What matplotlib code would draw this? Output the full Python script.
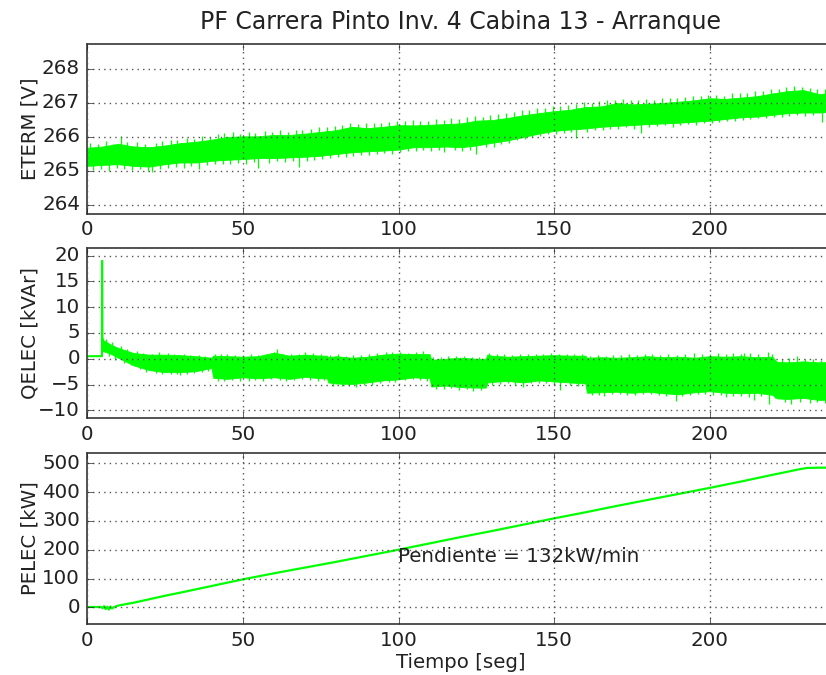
import matplotlib
matplotlib.use("Agg")
import matplotlib.pyplot as plt
import numpy as np

plt.style.use("classic")
plt.rcParams["font.family"] = ["DejaVu Sans"]

GREEN = "#00ff00"

title = "PF Carrera Pinto Inv. 4 Cabina 13 - Arranque"
xlabel = "Tiempo [seg]"
ylabels = ["ETERM [V]", "QELEC [kVAr]", "PELEC [kW]"]
annotation = "Pendiente = 132kW/min"

# ---------------- ETERM band ----------------
eterm_t = [0, 5, 10, 15, 20, 25, 30, 35, 40, 45, 50, 55, 60, 65, 70, 75, 80, 85, 90, 95,
           100, 105, 110, 115, 120, 125, 130, 135, 140, 145, 150, 155, 160, 165, 170, 175,
           180, 185, 190, 195, 200, 205, 210, 215, 220, 225, 230, 235, 240]
eterm_hi = [265.68, 265.72, 265.80, 265.72, 265.70, 265.75, 265.82, 265.86, 265.92, 266.00,
            266.02, 266.02, 266.06, 266.06, 266.10, 266.15, 266.20, 266.30, 266.26, 266.30,
            266.35, 266.34, 266.36, 266.38, 266.40, 266.48, 266.50, 266.56, 266.64, 266.70,
            266.76, 266.80, 266.88, 266.90, 267.00, 266.96, 266.98, 267.00, 267.04, 267.08,
            267.14, 267.12, 267.16, 267.20, 267.28, 267.35, 267.38, 267.26, 267.30]
eterm_lo = [265.15, 265.18, 265.20, 265.15, 265.13, 265.20, 265.25, 265.25, 265.30, 265.33,
            265.35, 265.38, 265.38, 265.40, 265.42, 265.45, 265.50, 265.55, 265.58, 265.60,
            265.63, 265.70, 265.70, 265.72, 265.70, 265.75, 265.83, 265.90, 266.00, 266.10,
            266.18, 266.22, 266.25, 266.30, 266.33, 266.35, 266.38, 266.40, 266.42, 266.45,
            266.48, 266.53, 266.58, 266.60, 266.65, 266.70, 266.72, 266.72, 266.75]
# noise peaks above / below the band
eterm_up_t = [1, 3.5, 6, 8.5, 11, 13, 16, 18.5, 22, 24, 27, 29, 32, 34.5, 37, 39.5, 42, 44,
              47, 49, 52, 54, 57, 59.5, 62, 64.5, 67, 69, 72, 74.5, 77, 79.5, 82, 84.5, 87,
              89.5, 92, 94.5, 97, 99.5, 102, 104.5, 107, 109.5, 112, 114.5, 117, 119.5, 122,
              124.5, 127, 129.5, 132, 134.5, 137, 139.5, 142, 144.5, 147, 149.5, 152, 154.5,
              157, 159.5, 162, 164.5, 167, 169.5, 172, 174.5, 177, 179.5, 182, 184.5, 187,
              189.5, 192, 194.5, 197, 199.5, 202, 204.5, 207, 209.5, 212, 214.5, 217, 219.5,
              222, 224.5, 227, 229.5, 232, 234.5, 237, 239.5]
eterm_up_v = [265.82, 265.78, 265.88, 265.80, 266.02, 265.85, 265.84, 265.80, 265.82, 265.88,
              265.92, 265.90, 265.98, 265.95, 266.02, 266.00, 266.08, 266.12, 266.15, 266.10,
              266.14, 266.12, 266.18, 266.16, 266.20, 266.15, 266.22, 266.20, 266.25, 266.28,
              266.30, 266.32, 266.35, 266.42, 266.38, 266.40, 266.42, 266.40, 266.45, 266.48,
              266.46, 266.50, 266.48, 266.46, 266.52, 266.50, 266.55, 266.52, 266.58, 266.62,
              266.60, 266.66, 266.68, 266.70, 266.74, 266.78, 266.80, 266.85, 266.86, 266.90,
              266.92, 266.95, 266.98, 267.02, 267.00, 267.05, 267.08, 267.10, 267.12, 267.08,
              267.10, 267.12, 267.10, 267.15, 267.14, 267.16, 267.18, 267.20, 267.22, 267.25,
              267.24, 267.22, 267.28, 267.30, 267.28, 267.34, 267.36, 267.40, 267.42, 267.48,
              267.50, 267.46, 267.44, 267.40, 267.42, 267.44]
eterm_dn_t = [2, 4.5, 7, 9.5, 12, 14.5, 17, 19.5, 21, 23.5, 26, 28.5, 31, 33.5, 36, 38.5, 41,
              43.5, 46, 48.5, 51, 53.5, 55, 58.5, 61, 63.5, 66, 68, 70.5, 73, 75.5, 78, 80.5,
              83, 85.5, 88, 90.5, 93, 95.5, 98, 100.5, 103, 105.5, 108, 110.5, 113, 114.5,
              118, 120.5, 123, 125, 128, 130.5, 133, 135.5, 138, 140.5, 143, 145.5, 148,
              150.5, 153, 155.5, 157, 160.5, 163, 165.5, 168, 170.5, 173, 175.5, 178, 180.5,
              183, 185.5, 188, 190.5, 193, 195.5, 198, 200.5, 203, 205.5, 208, 210.5, 213,
              215.5, 218, 220.5, 223, 225.5, 228, 230.5, 233, 236, 238.5]
eterm_dn_v = [265.02, 265.05, 265.00, 265.08, 265.06, 265.03, 265.05, 265.00, 264.98, 265.05,
              265.08, 265.12, 265.10, 265.15, 265.05, 265.18, 265.20, 265.22, 265.20, 265.25,
              265.22, 265.26, 265.08, 265.25, 265.28, 265.26, 265.30, 265.12, 265.28, 265.32,
              265.35, 265.38, 265.40, 265.42, 265.45, 265.46, 265.48, 265.50, 265.52, 265.50,
              265.55, 265.58, 265.60, 265.62, 265.60, 265.62, 265.55, 265.62, 265.58, 265.62,
              265.50, 265.70, 265.72, 265.78, 265.82, 265.90, 265.95, 266.00, 266.02, 266.08,
              266.10, 266.12, 266.15, 265.98, 266.15, 266.20, 266.22, 266.24, 266.25, 266.28,
              266.25, 266.12, 266.30, 266.32, 266.34, 266.30, 266.36, 266.38, 266.36, 266.40,
              266.40, 266.44, 266.46, 266.48, 266.50, 266.52, 266.55, 266.56, 266.58, 266.60,
              266.62, 266.64, 266.62, 266.65, 266.45, 266.66]

# ---------------- QELEC ----------------
qpre_t = [0, 4.8, 4.85, 4.95, 5.1]
qpre_v = [0.5, 0.5, 19.0, 2.0, 3.7]
qelec_t = [5, 7.5, 10, 15, 20, 25, 30, 35, 40, 40.5, 45, 50, 55, 60, 65, 70, 75, 77, 77.5,
           80, 85, 90, 95, 100, 105, 110, 110.5, 115, 120, 125, 128, 128.5, 130, 135, 140,
           145, 150, 155, 160, 160.5, 165, 170, 175, 180, 185, 190, 195, 200, 205, 210, 215,
           220, 221.5, 225, 230, 235, 240]
qelec_hi = [3.7, 2.8, 2.1, 1.1, 0.8, 0.8, 0.7, 0.5, 0.2, 0.6, 0.5, 0.4, 0.5, 1.2, 0.6, 0.8,
            0.6, 0.6, 0.3, 0.5, 0.2, 0.4, 0.8, 1.0, 0.9, 0.9, -0.2, 0.0, 0.2, 0.0, 0.0, 0.8,
            0.6, 0.4, 0.5, 0.6, 0.7, 0.6, 0.6, 0.2, 0.3, 0.2, 0.3, 0.5, 0.3, 0.4, 0.2, 0.5,
            0.4, 0.5, 0.3, 0.4, -0.6, -0.7, -0.5, -0.7, -0.6]
qelec_lo = [1.5, 1.0, 0.2, -1.3, -2.2, -2.6, -2.6, -2.4, -1.8, -3.7, -3.9, -3.6, -3.8, -3.6,
            -3.9, -3.5, -3.8, -3.8, -4.6, -4.8, -4.9, -4.6, -4.2, -4.0, -3.6, -3.8, -5.4,
            -5.2, -5.5, -5.6, -5.6, -4.6, -4.5, -4.3, -4.6, -4.2, -4.4, -4.6, -4.8, -6.6,
            -6.5, -6.4, -6.6, -6.4, -6.7, -6.9, -6.5, -6.3, -6.6, -6.7, -6.6, -7.0, -7.7,
            -7.8, -7.6, -8.0, -7.9]
qelec_up_t = [6, 8, 11, 13, 16, 18, 21, 23, 26, 28, 31, 33, 36, 38, 41, 43, 45, 47.5, 50,
              52.5, 55, 57.5, 60, 61, 63, 65.5, 68, 70, 72.5, 75, 78, 80.5, 83, 85.5, 88,
              90.5, 93, 96, 98, 100.5, 103, 105.5, 108, 111, 113.5, 116, 118.5, 121, 123.5,
              126, 129, 131.5, 134, 136.5, 139, 141.5, 144, 146.5, 149, 151.5, 154, 156.5,
              159, 161.5, 164, 166.5, 169, 171.5, 174, 176.5, 179, 181.5, 184, 186.5, 189.5,
              192, 195, 197.5, 200, 202.5, 205, 207.5, 210, 211, 213, 215.5, 218.7, 220, 223,
              225.5, 228, 230.5, 233, 235.5, 238]
qelec_up_v = [3.9, 3.2, 2.4, 1.8, 1.5, 1.2, 1.0, 1.3, 1.1, 0.9, 1.0, 0.8, 0.7, 0.5, 0.9,
              1.0, 0.9, 0.8, 0.7, 1.0, 0.8, 0.9, 1.3, 1.8, 1.0, 0.9, 1.0, 1.3, 1.1, 0.9, 0.7,
              0.9, 0.6, 0.7, 0.8, 0.9, 1.1, 1.3, 1.3, 1.4, 1.2, 1.3, 1.5, 0.3, 0.4, 0.5, 0.6,
              0.5, 0.4, 0.4, 1.2, 1.0, 0.9, 0.8, 0.9, 1.0, 1.0, 0.9, 1.1, 1.0, 0.9, 0.9, 1.0,
              0.6, 0.7, 0.6, 0.8, 0.7, 1.0, 0.8, 0.9, 1.0, 0.8, 0.9, 0.8, 0.9, 1.1, 0.9, 1.0,
              1.1, 0.9, 1.2, 1.0, 1.2, 1.1, 0.9, 1.4, 1.0, -0.1, 0.1, 0.6, -0.1, 0.0, -0.2, 0.0]
qelec_dn_t = [7, 9, 12, 14, 17, 19, 22, 24, 27, 29, 30, 32, 34.5, 37, 39, 42, 44, 46.5, 49,
              52, 54, 56.5, 59, 62, 64, 66.5, 69, 71.5, 74, 76, 79, 82, 84, 86.5, 89, 91.5,
              94, 97, 99, 102, 104.5, 107, 109, 112, 114.5, 117, 119.5, 122, 124, 126.5, 130,
              132.5, 135, 137.5, 140, 142.5, 145, 147.5, 150, 152, 155, 157.5, 162, 164.5,
              166, 168.5, 171, 173.5, 176, 178.5, 181, 183.5, 186, 189, 191, 193.5, 196,
              198.5, 201, 203.5, 205, 207.5, 210, 212.5, 214, 216.5, 219, 221, 224, 226, 229,
              232, 234.5, 237, 239.5]
qelec_dn_v = [0.5, -0.3, -0.8, -1.3, -2.0, -2.5, -2.8, -3.0, -3.0, -2.9, -3.1, -3.0, -2.8,
              -2.6, -2.3, -4.3, -4.4, -4.2, -4.3, -4.4, -4.1, -4.3, -4.0, -4.2, -4.4, -4.2,
              -4.0, -4.1, -4.3, -4.2, -5.2, -5.2, -5.3, -5.4, -5.1, -5.0, -4.7, -4.5, -4.5,
              -4.2, -4.0, -4.2, -4.3, -5.8, -5.8, -5.7, -6.0, -5.9, -6.3, -6.0, -5.0, -4.9,
              -4.8, -5.0, -5.5, -4.8, -4.7, -4.8, -4.9, -6.0, -5.0, -5.2, -7.0, -7.1, -7.2,
              -6.9, -6.8, -7.0, -7.1, -6.9, -6.8, -7.0, -7.2, -8.2, -7.3, -7.0, -6.9, -6.8,
              -7.0, -7.1, -7.5, -7.2, -7.2, -7.4, -8.0, -7.2, -8.8, -7.6, -8.4, -8.8, -8.3,
              -8.5, -8.3, -8.6, -8.2]

# ---------------- PELEC ----------------
pelec_t = [0, 4.5, 5, 5.5, 6, 6.5, 7, 7.5, 8, 9, 10, 15, 20, 25, 30, 40, 50, 60, 70, 80,
           90, 100, 110, 120, 130, 140, 150, 160, 170, 180, 190, 200, 210, 220, 228, 231,
           235, 240]
pelec_v = [1, 1, -3, 4, -6, 2, -8, 3, -4, 2, 6, 16, 28, 40, 51, 74, 97, 118, 138, 158,
           179, 200, 222, 244, 265, 287, 309, 330, 352, 373, 394, 415, 437, 460, 478, 484,
           485, 485]

xticks = [0, 50, 100, 150, 200]

W, H = 826, 675
fig = plt.figure(figsize=(W / 100, H / 100), dpi=100, facecolor="white")

left = 87 / W
width = (240 * 3.115) / W
boxes = [(43.5, 213.5), (248, 418), (453, 624)]
axes = []
for top, bot in boxes:
    ax = fig.add_axes([left, 1 - bot / H, width, (bot - top) / H])
    ax.set_facecolor("white")
    axes.append(ax)

ax1, ax2, ax3 = axes


def band(ax, t, lo, hi, up_t, up_v, dn_t, dn_v):
    ax.fill_between(t, lo, hi, color=GREEN, lw=0.6, edgecolor=GREEN)
    mid_t = np.asarray(t)
    mid_v = (np.asarray(lo) + np.asarray(hi)) / 2
    ax.vlines(up_t, np.interp(up_t, mid_t, mid_v), up_v, color=GREEN, lw=0.9)
    ax.vlines(dn_t, np.interp(dn_t, mid_t, mid_v), dn_v, color=GREEN, lw=0.9)


# ETERM
band(ax1, eterm_t, eterm_lo, eterm_hi, eterm_up_t, eterm_up_v, eterm_dn_t, eterm_dn_v)
ax1.set_ylim(263.75, 268.75)
ax1.set_yticks([264, 265, 266, 267, 268])
ax1.ticklabel_format(axis="y", useOffset=False)

# QELEC
ax2.plot(qpre_t, qpre_v, color=GREEN, lw=1.5)
band(ax2, qelec_t, qelec_lo, qelec_hi, qelec_up_t, qelec_up_v, qelec_dn_t, qelec_dn_v)
ax2.set_ylim(-11.5, 21.5)
ax2.set_yticks([-10, -5, 0, 5, 10, 15, 20])

# PELEC
ax3.plot(pelec_t, pelec_v, color=GREEN, lw=1.6)
ax3.set_ylim(-58, 536)
ax3.set_yticks([0, 100, 200, 300, 400, 500])
ax3.text(100, 176, annotation, ha="left", va="center", fontsize=14.3, color="#222222")
ax3.set_xlabel(xlabel, fontsize=14.2, color="#222222", labelpad=2)

for ax, lab in zip(axes, ylabels):
    ax.set_xlim(0, 240)
    ax.set_xticks(xticks)
    ax.grid(True, color="#555555", linestyle=":", linewidth=1.0)
    ax.tick_params(labelsize=14.3, colors="#222222", direction="in", pad=5)
    ax.set_ylabel(lab, fontsize=14.2, color="#222222")
    ax.yaxis.set_label_coords((40 - 87) / (240 * 3.115), 0.5)
    for s in ax.spines.values():
        s.set_color("#444444")
        s.set_linewidth(1.3)

fig.text((87 + 240 * 3.115 / 2) / W, 1 - 22 / H, title, ha="center", va="center",
         fontsize=17, color="#222222")

fig.savefig("out.png", dpi=100, facecolor="white")
